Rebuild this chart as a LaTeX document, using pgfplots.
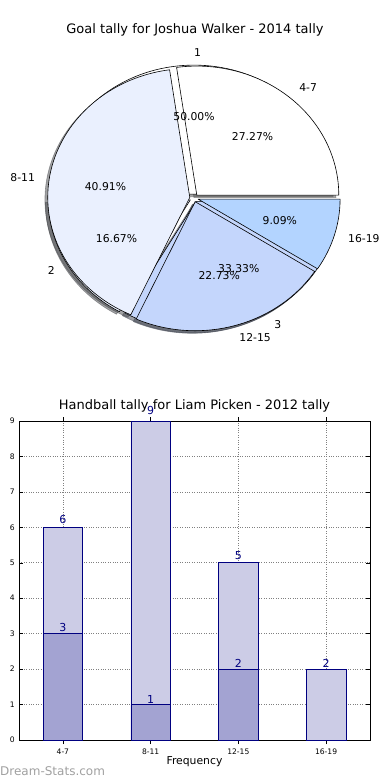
\documentclass[border=0pt]{standalone}
\usepackage{pgfplots}
\pgfplotsset{compat=1.18}
\usepackage{fontspec}
\setmainfont{DejaVu Sans}
\definecolor{c1}{HTML}{FFFFFF}
\definecolor{c2}{HTML}{EAF0FE}
\definecolor{c3}{HTML}{C4D6FC}
\definecolor{c4}{HTML}{B3D4FF}
\definecolor{navyc}{HTML}{000080}
\definecolor{barlight}{HTML}{CCCCE6}
\definecolor{bardark}{HTML}{A3A3D2}
\definecolor{wm}{HTML}{A0A0A0}

% pie geometry from counts: #1 start count, #2 end count, #3 total
\newcommand{\piegeom}[3]{%
  \pgfmathsetmacro\sa{360*#1/#3}%
  \pgfmathsetmacro\ea{360*#2/#3}%
  \pgfmathsetmacro\ma{(\sa+\ea)/2}%
  \pgfmathsetmacro\dx{0.03*cos(\ma)}%
  \pgfmathsetmacro\dy{0.03*sin(\ma)}%
  \pgfmathsetmacro\sx{\dx+cos(\sa)}%
  \pgfmathsetmacro\sy{\dy+sin(\sa)}%
}
\newcommand{\pieshadow}[4]{\piegeom{#1}{#2}{#3}%
  \pgfmathsetmacro\shx{\dx-0.02}\pgfmathsetmacro\shy{\dy-0.02}%
  \pgfmathsetmacro\ssx{\sx-0.02}\pgfmathsetmacro\ssy{\sy-0.02}%
  \filldraw[fill=#4!30!black, draw=#4!30!black, opacity=0.5, line width=0.6pt]
    (axis cs:\shx,\shy) -- (axis cs:\ssx,\ssy)
    arc[start angle=\sa, end angle=\ea, x radius=142pt, y radius=129pt] -- cycle;}
\newcommand{\piewedge}[4]{\piegeom{#1}{#2}{#3}%
  \filldraw[fill=#4, draw=black, line width=0.6pt, line join=round]
    (axis cs:\dx,\dy) -- (axis cs:\sx,\sy)
    arc[start angle=\sa, end angle=\ea, x radius=142pt, y radius=129pt] -- cycle;}
\newcommand{\pielabel}[5]{\piegeom{#1}{#2}{#3}%
  \pgfmathsetmacro\lx{\dx+1.1*cos(\ma)}\pgfmathsetmacro\ly{\dy+1.1*sin(\ma)}%
  \pgfmathsetmacro\px{\dx+0.6*cos(\ma)}\pgfmathsetmacro\py{\dy+0.6*sin(\ma)}%
  \pgfmathtruncatemacro\side{cos(\ma)>=-0.0001 ? 1 : 0}%
  \ifnum\side=1
    \node[anchor=west, inner sep=0pt, font=\fontsize{10.8}{12}\selectfont] at (axis cs:\lx,\ly) {#4};
  \else
    \node[anchor=east, inner sep=0pt, font=\fontsize{10.8}{12}\selectfont] at (axis cs:\lx,\ly) {#4};
  \fi
  \node[inner sep=0pt, font=\fontsize{10.8}{12}\selectfont] at (axis cs:\px,\py) {#5};}

\begin{document}
\begin{tikzpicture}
\path[use as bounding box] (0,0) rectangle (390pt,780pt);

% ---------- Pie chart ----------
\node[anchor=base, font=\fontsize{13}{15}\selectfont] at (195pt,746pt) {Goal tally for Joshua Walker - 2014 tally};
\begin{axis}[
  at={(194pt,582pt)}, anchor=center,
  scale only axis, width=369.2pt, height=335.4pt,
  xmin=-1.3, xmax=1.3, ymin=-1.3, ymax=1.3,
  hide axis, clip=false]
\pgfplotsextra{%
  % shadows (inner pie: 3,1,2 ; outer pie: 6,9,5,2)
  \pieshadow{0}{3}{6}{c1}\pieshadow{3}{4}{6}{c2}\pieshadow{4}{6}{6}{c3}%
  \pieshadow{0}{6}{22}{c1}\pieshadow{6}{15}{22}{c2}\pieshadow{15}{20}{22}{c3}\pieshadow{20}{22}{22}{c4}%
  % inner pie
  \piewedge{0}{3}{6}{c1}\piewedge{3}{4}{6}{c2}\piewedge{4}{6}{6}{c3}%
  % outer pie
  \piewedge{0}{6}{22}{c1}\piewedge{6}{15}{22}{c2}\piewedge{15}{20}{22}{c3}\piewedge{20}{22}{22}{c4}%
  % labels
  \pielabel{0}{3}{6}{1}{50.00\%}\pielabel{3}{4}{6}{2}{16.67\%}\pielabel{4}{6}{6}{3}{33.33\%}%
  \pielabel{0}{6}{22}{4-7}{27.27\%}\pielabel{6}{15}{22}{8-11}{40.91\%}%
  \pielabel{15}{20}{22}{12-15}{22.73\%}\pielabel{20}{22}{22}{16-19}{9.09\%}%
}
\end{axis}

% ---------- Bar chart ----------
\begin{axis}[
  at={(19pt,40pt)}, anchor=south west,
  scale only axis, width=351pt, height=319pt,
  xmin=-0.5, xmax=3.5, ymin=0, ymax=9,
  xtick={0,1,2,3}, xticklabels={4-7,8-11,12-15,16-19},
  ytick={0,1,2,3,4,5,6,7,8,9},
  /pgf/number format/assume math mode=true,
  tick label style={font=\fontsize{7.6}{8}\selectfont},
  xticklabel style={anchor=base, yshift=-11pt, inner sep=0pt},
  yticklabel style={anchor=east, inner sep=0pt, xshift=-4pt},
  tick align=inside, major tick length=4pt,
  tick style={black, line width=0.5pt},
  grid=major, grid style={dotted, gray, line width=0.6pt},
  axis line style={line width=0.8pt},
  title={Handball tally for Liam Picken - 2012 tally},
  title style={at={(0.5,1)}, anchor=base, yshift=6pt, font=\fontsize{13}{15}\selectfont},
  xlabel={Frequency},
  xlabel style={at={(0.5,0)}, anchor=base, yshift=-24.5pt, font=\fontsize{10.8}{12}\selectfont},
  ybar, bar width=0.45, bar shift=0pt,
  nodes near coords,
  visualization depends on={y \as \rawy},
  every node near coord/.append style={anchor=base, inner sep=0pt, text=navyc,
     font=\fontsize{11}{12}\selectfont, yshift={0.7088*\rawy}},
  clip=false]
\addplot[fill=barlight, draw=navyc, line width=0.7pt] coordinates {(0,6) (1,9) (2,5) (3,2)};
\addplot[fill=bardark, draw=navyc, line width=0.7pt] coordinates {(0,3) (1,1) (2,2)};
\end{axis}

\node[anchor=base west, inner sep=0pt, text=wm, font=\fontsize{12}{14}\selectfont] at (0pt,5pt) {Dream-Stats.com};
\end{tikzpicture}
\end{document}
